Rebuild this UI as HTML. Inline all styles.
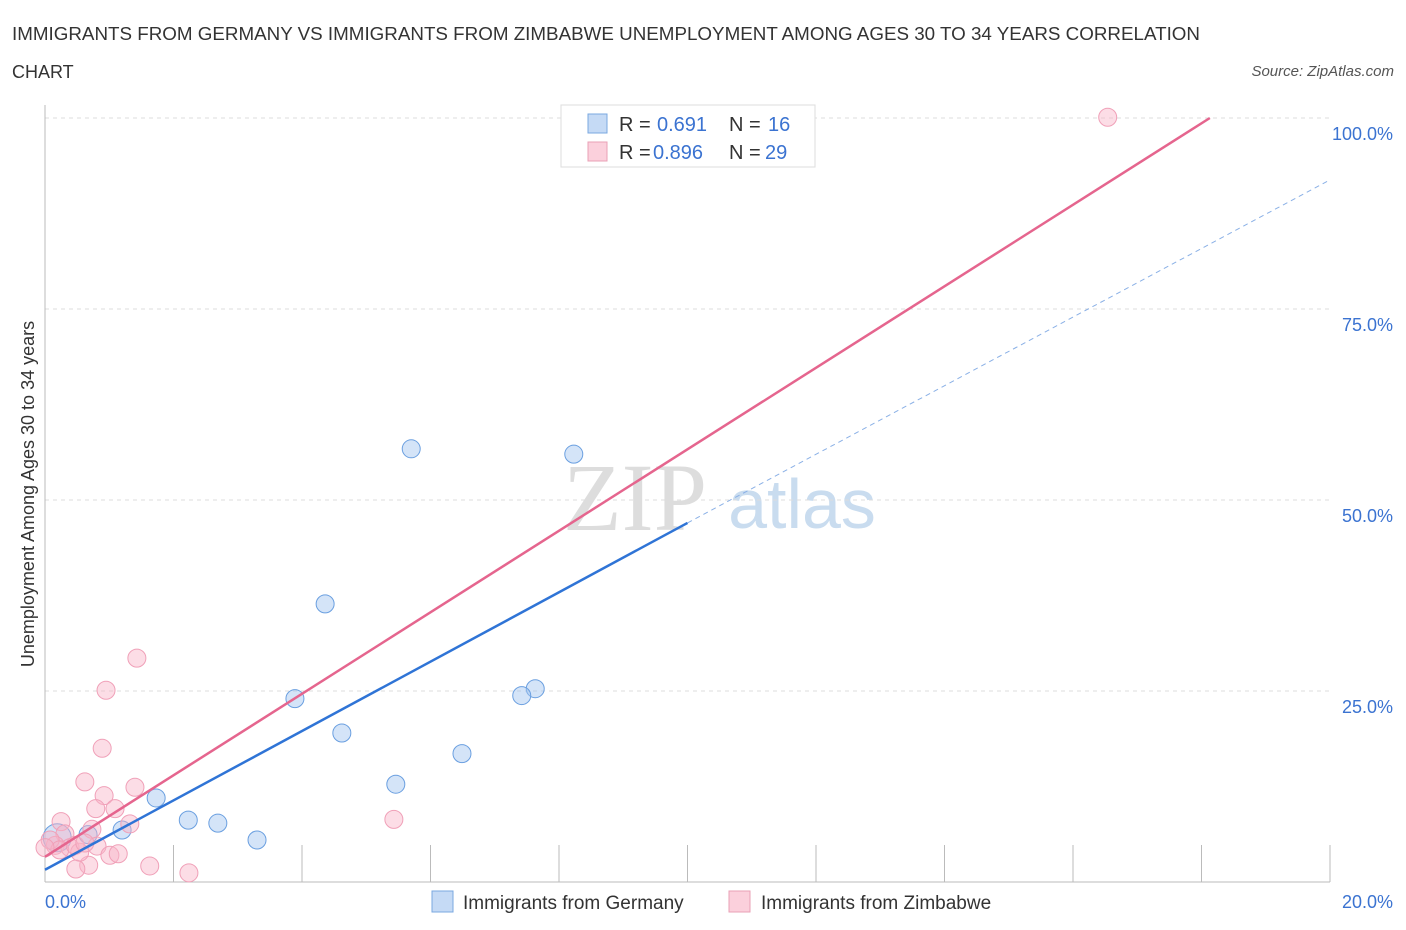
<!DOCTYPE html>
<html><head><meta charset="utf-8"><style>
body{margin:0;background:#fff;font-family:"Liberation Sans",sans-serif;}
svg{display:block}
</style></head><body>
<svg width="1406" height="930">
<text x="12" y="40" font-size="18" fill="#333" textLength="1188" lengthAdjust="spacingAndGlyphs">IMMIGRANTS FROM GERMANY VS IMMIGRANTS FROM ZIMBABWE UNEMPLOYMENT AMONG AGES 30 TO 34 YEARS CORRELATION</text>
<text x="12" y="78" font-size="18" fill="#333">CHART</text>
<text x="1394" y="76" font-size="15" fill="#555" font-style="italic" text-anchor="end">Source: ZipAtlas.com</text>
<text x="635" y="530" font-size="96" fill="#ddd" font-family="Liberation Serif,serif" text-anchor="middle">ZIP</text>
<text x="802" y="528" font-size="70" fill="#c9dcef" text-anchor="middle">atlas</text>
<g id="grid"></g>
<g id="marks"></g>
<text transform="translate(34,494) rotate(-90)" font-size="18" fill="#333" text-anchor="middle">Unemployment Among Ages 30 to 34 years</text>
<g>
<rect x="561" y="105" width="254" height="62" fill="#fff" stroke="#ddd"/>
<rect x="588" y="114" width="19" height="19" fill="#c5daf5" stroke="#7aa8e0"/>
<text x="619" y="131" font-size="20" fill="#333">R =</text><text x="657" y="131" font-size="20" fill="#3b73d1">0.691</text>
<text x="729" y="131" font-size="20" fill="#333">N =</text><text x="768" y="131" font-size="20" fill="#3b73d1">16</text>
<rect x="588" y="142" width="19" height="19" fill="#fbd0dc" stroke="#eaa0b6"/>
<text x="619" y="159" font-size="20" fill="#333">R =</text><text x="653" y="159" font-size="20" fill="#3b73d1">0.896</text>
<text x="729" y="159" font-size="20" fill="#333">N =</text><text x="765" y="159" font-size="20" fill="#3b73d1">29</text>
</g>
<text x="45" y="908" font-size="18" fill="#3b73d1">0.0%</text>
<text x="1393" y="908" font-size="18" fill="#3b73d1" text-anchor="end">20.0%</text>
<g><rect x="432" y="891" width="21" height="21" fill="#c5daf5" stroke="#7aa8e0"/><text x="463" y="909" font-size="19" fill="#333">Immigrants from Germany</text></g>
<g><rect x="729" y="891" width="21" height="21" fill="#fbd0dc" stroke="#eaa0b6"/><text x="761" y="909" font-size="19" fill="#333">Immigrants from Zimbabwe</text></g>
</svg>
<script>
const yTicks=[25,50,75,100];
const germanyX=[5.70,8.23,4.36,3.89,7.63,7.42,4.62,6.49,1.73,2.23,2.69,5.46,3.30,1.20,0.19,0.67];
const germanyY=[56.7,56.0,36.4,24.0,25.3,24.4,19.5,16.8,11.0,8.1,7.7,12.8,5.5,6.8,5.8,6.2];
const zimX=[16.54,1.43,0.95,0.89,0.62,1.40,0.92,0.79,1.09,5.43,0.25,1.32,0.73,0.31,0.81,1.01,1.14,1.63,2.24,0.68,0.48,0.16,0.39,0.54,0.08,0.23,0.47,0.0,0.62];
const zimY=[100.1,29.3,25.1,17.5,13.1,12.4,11.3,9.6,9.6,8.2,7.9,7.6,6.9,6.3,4.7,3.5,3.7,2.1,1.2,2.2,1.7,4.8,4.5,3.9,5.5,4.2,4.8,4.5,5.1];
const germanyFit=[1.6,47.0,91.9];
const zimFit=[3.3,100];
const NS='http://www.w3.org/2000/svg';
const X=v=>45+v/20*1285, Y=v=>882-v*7.64;
function mk(p,t,a){const e=document.createElementNS(NS,t);for(const k in a)e.setAttribute(k,a[k]);p.appendChild(e);return e;}
const g=document.getElementById('grid'), m=document.getElementById('marks');
yTicks.forEach(t=>{
 const l=mk(g,'line',{x1:45,x2:1330,y1:Y(t),y2:Y(t),stroke:'#ddd','stroke-dasharray':'4,4'});
 
 
 const tx=mk(g,'text',{x:1393,y:Y(t)+22,'font-size':18,fill:'#3b73d1','text-anchor':'end'});
 tx.textContent=t.toFixed(1)+'%';
 
 
});
mk(g,'line',{x1:45,x2:45,y1:105,y2:882,stroke:'#bbb'});
mk(g,'line',{x1:45,x2:1330,y1:882,y2:882,stroke:'#bbb'});
for(let i=2;i<=20;i+=2){const l=mk(g,'line',{x1:X(i),x2:X(i),y1:845,y2:882,stroke:'#bbb'});
 
 }
germanyX.forEach((x,i)=>{const c=mk(m,'circle',{cx:X(x),cy:Y(germanyY[i]),r:i==14?14:9,fill:'rgba(160,195,240,0.45)',stroke:'#6a9fe0','stroke-width':1});
 
 });
zimX.forEach((x,i)=>{const c=mk(m,'circle',{cx:X(x),cy:Y(zimY[i]),r:9,fill:'rgba(248,180,200,0.45)',stroke:'#f0a0b8','stroke-width':1});
 
 });
let l=mk(m,'line',{x1:X(0),y1:Y(germanyFit[0]),x2:X(10),y2:Y(germanyFit[1]),stroke:'#2f74d6','stroke-width':2.5});


l=mk(m,'line',{x1:X(10),y1:Y(germanyFit[1]),x2:X(20),y2:Y(germanyFit[2]),stroke:'#8ab0e6','stroke-width':1,'stroke-dasharray':'5,4'});


l=mk(m,'line',{x1:X(0),y1:Y(zimFit[0]),x2:X(18.13),y2:Y(zimFit[1]),stroke:'#e5658e','stroke-width':2.5});


</script>
</body></html>
